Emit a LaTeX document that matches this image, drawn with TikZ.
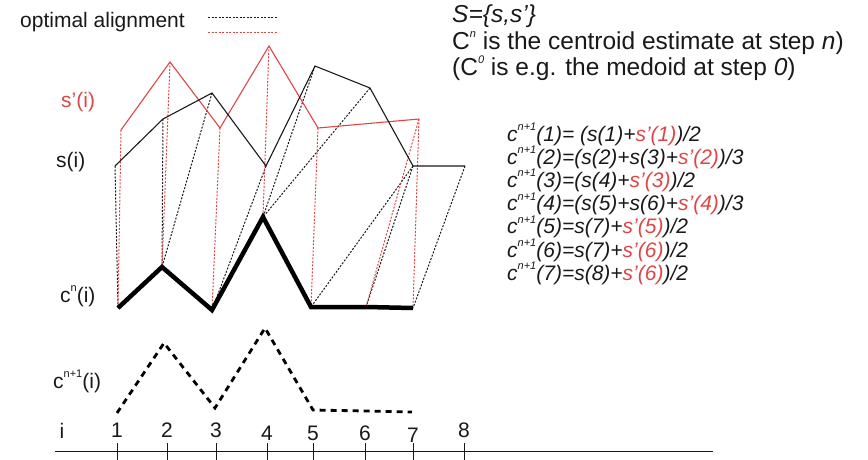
\documentclass[tikz,border=0pt]{standalone}
\usepackage{fontspec}
\setmainfont{Liberation Sans}
\definecolor{sred}{RGB}{222,70,70}
\definecolor{ink}{RGB}{25,25,25}
\newcommand{\sups}[1]{\raisebox{0.5em}{\fontsize{11}{11}\selectfont #1}}
\tikzset{
  series/.style={line width=1.1pt},
  align black/.style={ink, line width=1pt, dash pattern=on 2pt off 1.5pt},
  align red/.style={sred, line width=1pt, dash pattern=on 2pt off 1.5pt},
  lbl/.style={anchor=base, inner sep=0pt, text=ink},
}
\begin{document}
\begin{tikzpicture}[x=1pt, y=-1pt, font=\fontsize{21}{24}\selectfont]
  \useasboundingbox (0,0) rectangle (868,460);

  % legend
  \node[lbl, anchor=base west] (legend) at (20,28) {optimal alignment};
  \coordinate (lgb1) at (208,18);
  \coordinate (lgb2) at (278,18);
  \coordinate (lgr1) at (208,33);
  \coordinate (lgr2) at (278,33);
  \draw[align black] (lgb1) -- (lgb2);
  \draw[align red] (lgr1) -- (lgr2);

  % explanation
  \node[lbl, anchor=base west, font=\fontsize{24.5}{28}\selectfont] (setS) at (452,23) {\textit{S=\{s,s’\}}};
  \node[lbl, anchor=base west, font=\fontsize{24.5}{28}\selectfont] (cndef) at (452,50) {C\sups{\textit{n}} is the centroid estimate at step \textit{n})};
  \node[lbl, anchor=base west, font=\fontsize{24.5}{28}\selectfont] (c0def) at (452,76) {(C\sups{\textit{0}} is e.g. the medoid at step \textit{0})};

  % update rules
  \foreach \k/\rule [count=\j from 0] in {
      1/{(s(1)+\textcolor{sred}{s’(1)})/2},
      2/{(s(2)+s(3)+\textcolor{sred}{s’(2)})/3},
      3/{(s(4)+\textcolor{sred}{s’(3)})/2},
      4/{(s(5)+s(6)+\textcolor{sred}{s’(4)})/3},
      5/{s(7)+\textcolor{sred}{s’(5)})/2},
      6/{s(7)+\textcolor{sred}{s’(6)})/2},
      7/{s(8)+\textcolor{sred}{s’(6)})/2}}
    \node[lbl, anchor=base west] (rule\k) at (507,{141+23.2*\j})
      {\textit{c\sups{n+1}(\k)=\ifnum\k=1\ \fi\rule}};

  % series labels
  \node[lbl, anchor=base west, text=sred] (lsp) at (61,107) {s’(i)};
  \node[lbl, anchor=base west] (ls) at (56,167) {s(i)};
  \node[lbl, anchor=base west] (lcn) at (60,302) {c\sups{n}(i)};
  \node[lbl, anchor=base west] (lcn1) at (53,388) {c\sups{n+1}(i)};

  % points
  \foreach \n/\x/\y in {s1/115/166, s2/163/119, s3/212/93, s4/266/166,
                        s5/315/66, s6/370/88, s7/413/166, s8/465/166}
    \coordinate (\n) at (\x,\y);
  \foreach \n/\x/\y in {p1/121/130, p2/170/62, p3/220/128, p4/269/46,
                        p5/318/128, p6/419/119}
    \coordinate (\n) at (\x,\y);
  \foreach \n/\x/\y in {c1/118/308, c2/162/267, c3/212/310, c4/263/217,
                        c5/311/307, c6/366/307, c7/413/308}
    \coordinate (\n) at (\x,\y);
  \foreach \n/\x/\y in {d1/117/413, d2/164/343, d3/215/408, d4/265/328,
                        d5/313/410, d6/365/411, d7/412/412}
    \coordinate (\n) at (\x,\y);

  % alignment of s and s' onto c^n
  \foreach \a/\b in {s1/c1, s2/c2, s3/c2, s4/c3, s5/c4, s6/c4, s7/c5, s7/c6, s8/c7}
    \draw[align black] (\a) -- (\b);
  \foreach \a/\b in {p1/c1, p2/c2, p3/c3, p4/c4, p5/c5, p6/c6, p6/c7}
    \draw[align red] (\a) -- (\b);

  % sequences
  \draw[sred, series] (p1) -- (p2) -- (p3) -- (p4) -- (p5) -- (p6);
  \draw[ink, series] (s1) -- (s2) -- (s3) -- (s4) -- (s5) -- (s6) -- (s7) -- (s8);
  \draw[black, line width=4.5pt] (c1) -- (c2) -- (c3) -- (c4) -- (c5) -- (c6) -- (c7);
  \draw[black, line width=2.8pt, dash pattern=on 6pt off 5pt]
    (d1) -- (d2) -- (d3) -- (d4) -- (d5) -- (d6) -- (d7);

  % index axis
  \coordinate (ax0) at (55,451);
  \coordinate (ax1) at (713,451);
  \draw[ink, line width=1pt] (ax0) -- (ax1);
  \node[lbl, anchor=base] (li) at (62,438) {i};
  \foreach \k/\x/\y in {1/117/437, 2/167/437, 3/216/437, 4/267/440,
                        5/313/440, 6/365/440, 7/413/442, 8/464/437} {
    \coordinate (tk\k) at (\x,443);
    \draw[ink, line width=1pt] (tk\k) -- ++(0,17);
    \node[lbl] (t\k) at (\x,\y) {\k};
  }
\end{tikzpicture}
\end{document}
